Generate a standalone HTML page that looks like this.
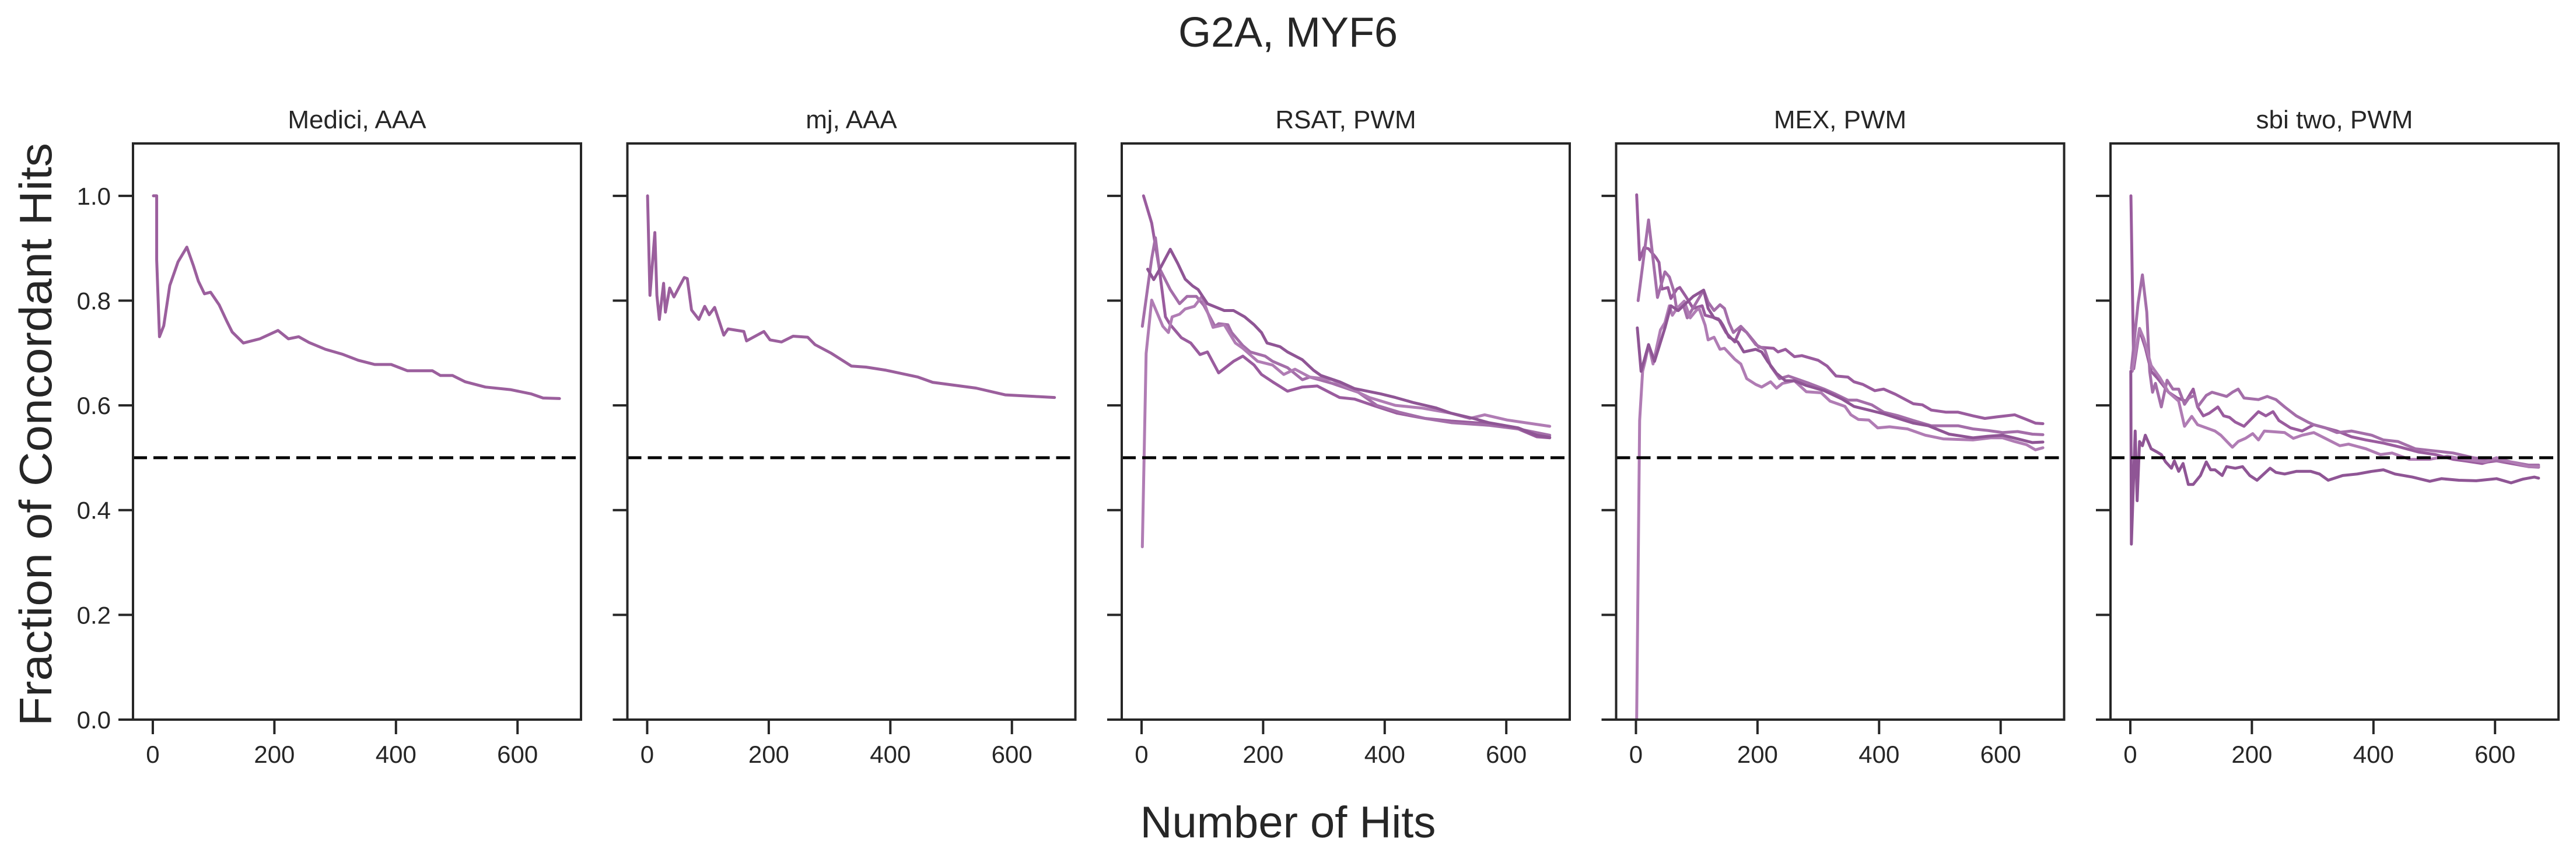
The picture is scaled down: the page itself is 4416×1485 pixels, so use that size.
<!DOCTYPE html>
<html><head><meta charset="utf-8"><style>
html,body{margin:0;padding:0;background:#fff;}
svg{display:block;}
text{font-family:"Liberation Sans",sans-serif;fill:#262626;}
</style></head><body>
<svg id="fig" width="4416" height="1485" viewBox="0 0 4416 1485" xmlns="http://www.w3.org/2000/svg">
<rect width="4416" height="1485" fill="#fff"/>
<text x="2208" y="80" font-size="72" text-anchor="middle">G2A, MYF6</text>
<text x="2208" y="1436" font-size="76" text-anchor="middle">Number of Hits</text>
<text x="0" y="0" font-size="78" text-anchor="middle" transform="translate(88,745) rotate(-90)" textLength="1000" lengthAdjust="spacingAndGlyphs">Fraction of Concordant Hits</text>
<g id="plots"></g>
</svg>
<script>
const panelTitles = ["Medici, AAA","mj, AAA","RSAT, PWM","MEX, PWM","sbi two, PWM"];
const xTicks = [0,200,400,600];
const yTicks = [0.0,0.2,0.4,0.6,0.8,1.0];
const yTickLabels = ["0.0","0.2","0.4","0.6","0.8","1.0"];
const refLine = 0.5;

const p1x = [1,6.4,6.4,11,18,28,41.5,56,67,75,85,95,109,122,130.5,149,176,206,223,240,257,284,311,338,365,392,419,460,473,493,514,547,588,622,642,669];
const p1y = [1,1,0.878,0.731,0.752,0.829,0.874,0.902,0.866,0.837,0.813,0.816,0.792,0.76,0.74,0.719,0.727,0.743,0.727,0.731,0.72,0.707,0.698,0.686,0.678,0.678,0.666,0.666,0.657,0.657,0.645,0.635,0.63,0.622,0.614,0.613];

const p2x = [0.6,4.5,12.6,16,20,27,30,37,44,61,66,73,85,94.6,102,111,126,133,159,163.5,192,202,221,240,264,276,302,336,360,393,445.5,469.7,541,589,637,670];
const p2y = [1.0,0.81,0.93,0.81,0.764,0.833,0.778,0.824,0.807,0.844,0.842,0.782,0.764,0.789,0.773,0.787,0.734,0.746,0.741,0.723,0.741,0.725,0.721,0.732,0.73,0.716,0.70,0.675,0.673,0.667,0.654,0.644,0.633,0.62,0.617,0.615];

const p3s1x = [3.2,16.6,28.9,39.3,47.2,65.6,80.9,96.2,108.4,126.8,151.3,166.6,185,197.2,215.5,240,264.5,289,325.7,350.2,380.8,420.6,466.5,509.3,570.5,619.5,650.1,671.5];
const p3s1y = [1.0,0.948,0.863,0.769,0.754,0.729,0.719,0.697,0.702,0.662,0.684,0.694,0.677,0.659,0.645,0.627,0.635,0.637,0.615,0.612,0.6,0.585,0.575,0.57,0.565,0.555,0.54,0.538];
const p3s2x = [1.3,16.6,22.8,28.9,47.2,62.5,74.8,90.1,102.3,120.7,126.8,142,148.2,166.6,178.8,203.3,215.5,240,264.5,276.7,313.5,356.3,386.9,423.6,466.5,509.3,570.5,619.5,671.5];
const p3s2y = [0.751,0.88,0.92,0.863,0.821,0.794,0.808,0.808,0.791,0.751,0.756,0.754,0.739,0.714,0.702,0.694,0.684,0.672,0.649,0.654,0.642,0.625,0.6,0.587,0.575,0.567,0.562,0.555,0.543];
const p3s3x = [1.3,7.5,16.6,35,44.2,50.3,62.5,71.7,87,99.3,117.6,136,154.3,166.6,191,215.5,233.9,252.3,276.7,313.5,338,374.7,417.5,460.3,509.3,539.9,564.4,601.1,671.5];
const p3s3y = [0.33,0.699,0.801,0.751,0.739,0.769,0.774,0.784,0.789,0.808,0.749,0.754,0.719,0.709,0.684,0.677,0.659,0.669,0.654,0.649,0.635,0.615,0.6,0.595,0.585,0.575,0.582,0.572,0.56];
const p3s4x = [10,20,28.9,47.2,59.5,71.7,84,93.1,108.4,136,151.3,169.6,185,197.2,206.4,227.8,240,264.5,282.9,295.1,325.7,350.2,393,417.5,448.1,484.8,509.3,546,570.5,619.5,650.1,671.5];
const p3s4y = [0.86,0.84,0.858,0.898,0.871,0.841,0.828,0.821,0.794,0.781,0.781,0.769,0.754,0.739,0.719,0.712,0.702,0.687,0.667,0.657,0.645,0.632,0.622,0.615,0.605,0.595,0.585,0.575,0.567,0.557,0.543,0.539];

const p4s1x = [1.2,6.1,13.4,20.8,33,37.9,42.8,52.6,57.5,67.3,72.2,82,94.2,108.9,113.8,123.6,135.8,148.1,162.7,172.5,182.3,201.9,226.4,233.7,246,260.7,272.9,299.8,314.5,329.2,348.8,358.6,373.3,392.9,407.5,427.1,456.5,471.2,485.9,510.4,529.9,554.4,574,593.6,623,642.5,657.2,669.5];
const p4s1y = [1.002,0.878,0.901,0.899,0.882,0.873,0.822,0.825,0.804,0.822,0.825,0.808,0.785,0.79,0.772,0.769,0.765,0.739,0.721,0.748,0.739,0.711,0.709,0.702,0.707,0.693,0.695,0.686,0.675,0.656,0.654,0.645,0.64,0.628,0.631,0.621,0.603,0.601,0.591,0.587,0.587,0.58,0.575,0.578,0.582,0.573,0.566,0.565];
const p4s2x = [3.6,20.8,35.4,47.7,55,62.4,67.3,77.1,84.4,111.3,118.7,128.5,138.3,145.6,153,160.3,172.5,182.3,197,211.7,221.5,236.2,250.9,285.1,309.6,329.2,348.8,363.5,388,407.5,432,456.5,485.9,529.9,554.4,578.9,603.4,627.9,652.3,669.5];
const p4s2y = [0.8,0.954,0.806,0.855,0.845,0.818,0.781,0.795,0.767,0.82,0.797,0.781,0.792,0.785,0.758,0.739,0.751,0.739,0.716,0.707,0.675,0.651,0.656,0.642,0.631,0.621,0.61,0.61,0.601,0.587,0.58,0.571,0.561,0.561,0.555,0.552,0.548,0.55,0.545,0.544];
const p4s3x = [1.2,6.1,11,15.9,20.8,28.1,40.3,47.7,55,59.9,67.3,79.5,89.3,99.1,104,113.8,118.7,128.5,138.3,145.6,162.7,172.5,182.3,197,206.8,221.5,231.3,241.1,260.7,280.2,304.7,319.4,343.9,353.7,365.9,383.1,397.7,417.3,446.7,476.1,505.5,554.4,583.8,603.4,623,642.5,657.2,669.5];
const p4s3y = [0.0,0.571,0.665,0.688,0.716,0.679,0.744,0.758,0.79,0.772,0.785,0.799,0.767,0.781,0.785,0.753,0.725,0.73,0.707,0.709,0.688,0.679,0.651,0.64,0.635,0.645,0.633,0.642,0.647,0.626,0.624,0.608,0.598,0.582,0.573,0.572,0.557,0.559,0.555,0.543,0.536,0.534,0.538,0.538,0.531,0.525,0.515,0.519];
const p4s4x = [2.2,8.5,20.8,30.5,47.7,57.5,69.7,94.2,111.3,118.7,128.5,138.3,143.2,153,167.6,177.4,197,206.8,216.6,231.3,246,260.7,280.2,309.6,339,358.6,383.1,407.5,436.9,456.5,481,515.3,554.4,578.9,603.4,627.9,652.3,669.5];
const p4s4y = [0.748,0.665,0.716,0.684,0.748,0.79,0.781,0.808,0.82,0.785,0.767,0.762,0.753,0.73,0.721,0.702,0.707,0.702,0.684,0.661,0.647,0.647,0.638,0.628,0.612,0.598,0.591,0.584,0.573,0.566,0.561,0.545,0.538,0.541,0.543,0.536,0.529,0.53];

const p5s1x = [1,5.6,15.2,24.7,34.3,43.8,62.9,77.2,91.6,103.5,110.7,120.2,129.8,144.1,153.6,163.2,172.7,187.1,210.9,222.9,234.8,244.4,263.5,282.6,301.7,320.8,339.9,363.7,387.6,416.3,444.9,473.6,502.2,530.9,549.9,578.6,588.2,602.5,626.4,655,671.7];
const p5s1y = [1.0,0.67,0.744,0.71,0.665,0.653,0.625,0.614,0.608,0.631,0.597,0.58,0.585,0.597,0.58,0.577,0.568,0.56,0.588,0.58,0.588,0.571,0.557,0.551,0.563,0.557,0.551,0.54,0.534,0.528,0.52,0.511,0.506,0.497,0.494,0.489,0.492,0.494,0.489,0.483,0.482];
const p5s2x = [1.8,12.8,19.9,27.1,31.9,36.6,41.4,51,60.5,70.1,79.6,89.2,96.3,105.9,110.7,125,134.5,158.4,168,177.5,187.1,210.9,225.3,239.6,253.9,273,292.1,301.7,320.8,339.9,363.7,397.2,416.3,440.1,468.8,492.7,530.9,564.3,602.5,626.4,655,671.7];
const p5s2y = [0.67,0.795,0.849,0.778,0.665,0.625,0.642,0.597,0.648,0.631,0.631,0.602,0.614,0.619,0.597,0.619,0.625,0.617,0.625,0.631,0.614,0.611,0.617,0.611,0.597,0.58,0.568,0.563,0.557,0.548,0.551,0.543,0.534,0.531,0.517,0.514,0.509,0.5,0.494,0.492,0.486,0.486];
const p5s3x = [3.2,15.2,22.3,34.3,48.6,62.9,79.6,89.2,101.1,110.7,125,139.3,148.9,168,177.5,189.4,201.4,210.9,220.5,253.9,268.2,282.6,301.7,320.8,344.6,359,387.6,411.5,430.6,459.2,492.7,521.3,549.9,583.4,602.5,626.4,655,671.7];
const p5s3y = [0.665,0.747,0.727,0.676,0.653,0.625,0.608,0.56,0.579,0.563,0.557,0.551,0.543,0.52,0.531,0.537,0.546,0.534,0.551,0.548,0.537,0.543,0.548,0.537,0.523,0.526,0.517,0.506,0.509,0.497,0.497,0.503,0.497,0.492,0.5,0.492,0.483,0.483];
const p5s4x = [0.8,1.8,8,11.3,15.2,19.9,24.7,34.3,43.8,51,58.1,67.7,72.5,79.6,86.8,95.4,103.5,115.4,125,132.1,139.3,151.2,158.4,172.7,184.7,196.6,208.5,230,239.6,253.9,273,296.9,311.2,325.5,349.4,373.3,397.2,416.3,435.4,464,492.7,511.8,540.4,569.1,602.5,626.4,645.5,664.6,671.7];
const p5s4y = [0.665,0.335,0.551,0.418,0.531,0.523,0.543,0.517,0.511,0.506,0.492,0.48,0.494,0.474,0.489,0.449,0.449,0.466,0.492,0.477,0.477,0.466,0.483,0.48,0.483,0.466,0.457,0.48,0.472,0.469,0.474,0.474,0.469,0.457,0.466,0.469,0.474,0.477,0.469,0.463,0.455,0.46,0.457,0.456,0.46,0.452,0.459,0.463,0.461];

const panelSeries = [
  [[p1x,p1y]],
  [[p2x,p2y]],
  [[p3s1x,p3s1y],[p3s2x,p3s2y],[p3s3x,p3s3y],[p3s4x,p3s4y]],
  [[p4s1x,p4s1y],[p4s2x,p4s2y],[p4s3x,p4s3y],[p4s4x,p4s4y]],
  [[p5s1x,p5s1y],[p5s2x,p5s2y],[p5s3x,p5s3y],[p5s4x,p5s4y]]
];

const NS = "http://www.w3.org/2000/svg";
const root = document.getElementById("plots");
const lefts = [228,1075.5,1923,2770.5,3618];
const PW = 768, TOP = 246, BOT = 1234;
const XMIN = -32.6, XMAX = 704.4, YMIN = 0, YMAX = 1.1;
const colors = ["#9a5c9e","#a46ea9","#b07cb4","#8f5595"];
function mk(tag, attrs){ const e=document.createElementNS(NS,tag); for(const k in attrs) e.setAttribute(k,attrs[k]); return e; }

panelSeries.forEach((series, pi) => {
  const L = lefts[pi];
  const sx = v => L + (v - XMIN) / (XMAX - XMIN) * PW;
  const sy = v => BOT - (v - YMIN) / (YMAX - YMIN) * (BOT - TOP);
  const g = mk("g", {});
  
  
  root.appendChild(g);

  const t = mk("text", {x: L + PW/2, y: 220, "font-size": 44, "text-anchor": "middle"});
  t.textContent = panelTitles[pi];
  
  
  g.appendChild(t);

  series.forEach((s, si) => {
    const xs = s[0], ys = s[1];
    const d = xs.map((x, i) => (i ? "L" : "M") + sx(x).toFixed(1) + " " + sy(ys[i]).toFixed(1)).join(" ");
    const p = mk("path", {d: d, fill: "none", stroke: series.length === 1 ? "#9b5f9d" : colors[si], "stroke-width": 5, "stroke-linejoin": "round", "stroke-linecap": "round"});
    
    
    g.appendChild(p);
  });

  const ref = mk("line", {x1: L, x2: L + PW, y1: sy(refLine), y2: sy(refLine), stroke: "#000", "stroke-width": 5, "stroke-dasharray": "24 11"});
  
  
  g.appendChild(ref);

  yTicks.forEach((v, i) => {
    const tk = mk("line", {x1: L - 25, x2: L, y1: sy(v), y2: sy(v), stroke: "#262626", "stroke-width": 4});
    
    
    g.appendChild(tk);
    if (pi === 0) {
      const lb = mk("text", {x: L - 38, y: sy(v) + 15, "font-size": 42, "text-anchor": "end"});
      lb.textContent = yTickLabels[i];
      
      
      g.appendChild(lb);
    }
  });
  xTicks.forEach(v => {
    const tk = mk("line", {x1: sx(v), x2: sx(v), y1: BOT, y2: BOT + 25, stroke: "#262626", "stroke-width": 4});
    
    
    g.appendChild(tk);
    const lb = mk("text", {x: sx(v), y: BOT + 74, "font-size": 42, "text-anchor": "middle"});
    lb.textContent = String(v);
    
    
    g.appendChild(lb);
  });

  const frame = mk("rect", {x: L, y: TOP, width: PW, height: BOT - TOP, fill: "none", stroke: "#262626", "stroke-width": 4});
  
  
  g.appendChild(frame);
});
</script>
</body></html>
